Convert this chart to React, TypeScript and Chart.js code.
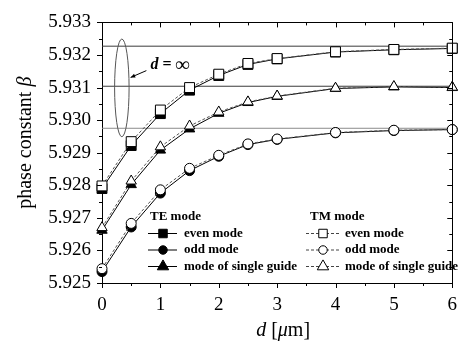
import React, { useEffect, useRef } from 'react';
import { Chart, registerables } from 'chart.js';

Chart.register(...registerables);

// ---------- data ----------
const dValues = [0, 0.5, 1, 1.5, 2, 2.5, 3, 4, 5, 6];

const teEven = [5.9279, 5.92922, 5.9302, 5.93092, 5.93137, 5.93171, 5.93188, 5.93209, 5.93216, 5.9322];
const teOdd = [5.92535, 5.92672, 5.92776, 5.92845, 5.92889, 5.92925, 5.92941, 5.92961, 5.92968, 5.92971];
const teSingle = [5.92662, 5.92802, 5.92908, 5.92973, 5.93021, 5.93054, 5.93073, 5.93097, 5.93102, 5.931];

const tmEven = [5.92798, 5.92934, 5.93031, 5.931, 5.93141, 5.93174, 5.93189, 5.9321, 5.93217, 5.93221];
const tmOdd = [5.92544, 5.92683, 5.92786, 5.92852, 5.92892, 5.92927, 5.92942, 5.92962, 5.92969, 5.92971];
const tmSingle = [5.9267, 5.92813, 5.92918, 5.92982, 5.93025, 5.93056, 5.93074, 5.93098, 5.93103, 5.93101];

// asymptotes for d = infinity
const asymptoteValues = [5.93227, 5.93104, 5.92975];
const asymptoteColors = ['#3a3a3a', '#3a3a3a', '#8c8c8c'];

const xTickValues = [0, 1, 2, 3, 4, 5, 6];
const xTickLabels = ['0', '1', '2', '3', '4', '5', '6'];
const yTickValues = [5.925, 5.926, 5.927, 5.928, 5.929, 5.93, 5.931, 5.932, 5.933];
const yTickLabels = ['5.925', '5.926', '5.927', '5.928', '5.929', '5.930', '5.931', '5.932', '5.933'];

const teLegendLabels = ['even mode', 'odd mode', 'mode of single guide'];
const tmLegendLabels = ['even mode', 'odd mode', 'mode of single guide'];
const legendStyles = ['rect', 'circle', 'triangle'];

// annotation (data space)
const ellipseCenter = { x: 0.34, y: 5.93099 };
const ellipseRadius = { x: 0.124, y: 0.0015 };
const arrowTail = { x: 0.76, y: 5.93152 };
const arrowTip = { x: 0.49, y: 5.93131 };
const infLabelPos = { x: 0.83, y: 5.93169 };

const SERIF = "'Liberation Serif', 'Times New Roman', Times, serif";

const pts = (ys: number[]) => ys.map((y, i) => ({ x: dValues[i], y }));

function drawMarker(ctx: CanvasRenderingContext2D, style: string, x: number, y: number, size: number, filled: boolean) {
  ctx.save();
  ctx.beginPath();
  if (style === 'rect') {
    ctx.rect(x - size / 2, y - size / 2, size, size);
  } else if (style === 'circle') {
    ctx.arc(x, y, size / 2, 0, Math.PI * 2);
  } else {
    const r = size * 0.6;
    ctx.moveTo(x, y - r);
    ctx.lineTo(x + r * 0.866, y + r * 0.5);
    ctx.lineTo(x - r * 0.866, y + r * 0.5);
    ctx.closePath();
  }
  ctx.fillStyle = filled ? '#000' : '#fff';
  ctx.fill();
  ctx.lineWidth = 1;
  ctx.strokeStyle = '#000';
  ctx.stroke();
  ctx.restore();
}

const decorPlugin = {
  id: 'decor',
  afterDraw(chart: any) {
    const { ctx, chartArea, scales } = chart;
    const xs = scales.x;
    const ys = scales.y;
    const L = chartArea.left, R = chartArea.right, T = chartArea.top, B = chartArea.bottom;
    ctx.save();
    // frame top & right
    ctx.strokeStyle = '#000';
    ctx.lineWidth = 1;
    ctx.beginPath();
    ctx.moveTo(L, Math.round(T) + 0.5);
    ctx.lineTo(R + 0.5, Math.round(T) + 0.5);
    ctx.moveTo(Math.round(R) + 0.5, T);
    ctx.lineTo(Math.round(R) + 0.5, B);
    ctx.stroke();

    // ticks
    ctx.beginPath();
    for (let v = 0; v <= 6.0001; v += 0.5) {
      const px = Math.round(xs.getPixelForValue(v)) + 0.5;
      const major = Math.abs(v - Math.round(v)) < 1e-6;
      const len = major ? 5 : 3;
      ctx.moveTo(px, B);
      ctx.lineTo(px, B + len);
      ctx.moveTo(px, T);
      ctx.lineTo(px, T + len);
    }
    for (let k = 0; k <= 16; k++) {
      const v = 5.925 + k * 0.0005;
      const py = Math.round(ys.getPixelForValue(v)) + 0.5;
      const len = k % 2 === 0 ? 5 : 3;
      ctx.moveTo(L, py);
      ctx.lineTo(L - len, py);
      ctx.moveTo(R, py);
      ctx.lineTo(R - len, py);
    }
    ctx.stroke();

    // ellipse
    const ecx = xs.getPixelForValue(ellipseCenter.x);
    const ecy = ys.getPixelForValue(ellipseCenter.y);
    const erx = Math.abs(xs.getPixelForValue(ellipseCenter.x + ellipseRadius.x) - ecx);
    const ery = Math.abs(ys.getPixelForValue(ellipseCenter.y + ellipseRadius.y) - ecy);
    ctx.beginPath();
    ctx.ellipse(ecx, ecy, erx, ery, 0, 0, Math.PI * 2);
    ctx.strokeStyle = '#555';
    ctx.lineWidth = 1;
    ctx.stroke();

    // arrow
    const tx = xs.getPixelForValue(arrowTail.x), ty = ys.getPixelForValue(arrowTail.y);
    const hx = xs.getPixelForValue(arrowTip.x), hy = ys.getPixelForValue(arrowTip.y);
    ctx.beginPath();
    ctx.moveTo(tx, ty);
    ctx.lineTo(hx, hy);
    ctx.strokeStyle = '#000';
    ctx.stroke();
    const ang = Math.atan2(hy - ty, hx - tx);
    ctx.beginPath();
    ctx.moveTo(hx, hy);
    ctx.lineTo(hx - 5 * Math.cos(ang - 0.4), hy - 5 * Math.sin(ang - 0.4));
    ctx.lineTo(hx - 5 * Math.cos(ang + 0.4), hy - 5 * Math.sin(ang + 0.4));
    ctx.closePath();
    ctx.fillStyle = '#000';
    ctx.fill();

    // d = ∞
    const ix = xs.getPixelForValue(infLabelPos.x), iy = ys.getPixelForValue(infLabelPos.y);
    ctx.textBaseline = 'middle';
    ctx.textAlign = 'left';
    ctx.fillStyle = '#000';
    ctx.font = `italic bold 16px ${SERIF}`;
    ctx.fillText('d', ix, iy);
    const dw = ctx.measureText('d').width;
    ctx.font = `bold 16px ${SERIF}`;
    ctx.fillText(' = ', ix + dw, iy);
    const ew = ctx.measureText(' = ').width;
    ctx.font = `bold 20px ${SERIF}`;
    ctx.fillText('\u221E', ix + dw + ew, iy + 1);

    // legend
    ctx.font = `bold 13px ${SERIF}`;
    ctx.fillText('TE mode', 150, 217);
    ctx.fillText('TM mode', 310, 217);
    const rowY = [233.5, 250, 266.5];
    for (let i = 0; i < 3; i++) {
      const y = rowY[i];
      // TE
      ctx.beginPath();
      ctx.setLineDash([]);
      ctx.strokeStyle = '#000';
      ctx.lineWidth = 1;
      ctx.moveTo(148, y);
      ctx.lineTo(177, y);
      ctx.stroke();
      drawMarker(ctx, legendStyles[i], 163, y, legendStyles[i] === 'triangle' ? 11 : 8.5, true);
      ctx.fillStyle = '#000';
      ctx.fillText(teLegendLabels[i], 184, y);
      // TM
      ctx.beginPath();
      ctx.setLineDash([3, 2]);
      ctx.strokeStyle = '#444';
      ctx.moveTo(306, y);
      ctx.lineTo(340, y);
      ctx.stroke();
      ctx.setLineDash([]);
      drawMarker(ctx, legendStyles[i], 323, y, legendStyles[i] === 'triangle' ? 11 : 8.5, false);
      ctx.fillStyle = '#000';
      ctx.fillText(tmLegendLabels[i], 345, y);
    }

    // y title
    ctx.save();
    ctx.translate(26, (T + B) / 2 - 10);
    ctx.rotate(-Math.PI / 2);
    ctx.font = `20px ${SERIF}`;
    const t1 = 'phase constant ';
    const w1 = ctx.measureText(t1).width;
    ctx.font = `italic 20px ${SERIF}`;
    const w2 = ctx.measureText('\u03B2').width;
    const start = -(w1 + w2) / 2;
    ctx.textAlign = 'left';
    ctx.textBaseline = 'middle';
    ctx.font = `20px ${SERIF}`;
    ctx.fillText(t1, start, 0);
    ctx.font = `italic 20px ${SERIF}`;
    ctx.fillText('\u03B2', start + w1, 0);
    ctx.restore();

    // x title: d [μm]
    const parts: [string, boolean][] = [['d', true], [' [', false], ['\u03BC', true], ['m]', false]];
    let total = 0;
    for (const [s, it] of parts) {
      ctx.font = `${it ? 'italic ' : ''}20px ${SERIF}`;
      total += ctx.measureText(s).width;
    }
    let cx = (L + R) / 2 + 6 - total / 2;
    ctx.textBaseline = 'middle';
    ctx.textAlign = 'left';
    for (const [s, it] of parts) {
      ctx.font = `${it ? 'italic ' : ''}20px ${SERIF}`;
      ctx.fillText(s, cx, 331);
      cx += ctx.measureText(s).width;
    }
    ctx.restore();
  },
};

export default function App() {
  const ref = useRef<HTMLCanvasElement | null>(null);

  useEffect(() => {
    document.body.style.margin = '0';
    const canvas = ref.current;
    if (!canvas) return;

    const markerSet = (
      label: string,
      ys: number[],
      style: string,
      radius: number,
      filled: boolean,
      order: number
    ) => ({
      label,
      data: pts(ys),
      showLine: true,
      borderColor: filled ? '#000' : '#555',
      borderWidth: 1,
      borderDash: filled ? [] : [3, 2],
      pointStyle: style,
      pointRadius: radius,
      pointBorderColor: '#000',
      pointBorderWidth: 1,
      pointBackgroundColor: filled ? '#000' : '#fff',
      pointHoverRadius: radius,
      clip: false,
      order,
    });

    const asymSets = asymptoteValues.map((v, i) => ({
      label: `asym${i}`,
      data: [{ x: 0, y: v }, { x: 6, y: v }],
      showLine: true,
      borderColor: asymptoteColors[i],
      borderWidth: 1,
      pointRadius: 0,
      order: 5,
    }));

    const chart = new Chart(canvas, {
      type: 'scatter',
      data: {
        datasets: [
          markerSet('TM even', tmEven, 'rect', 7, false, 1),
          markerSet('TM odd', tmOdd, 'circle', 5, false, 1),
          markerSet('TM single', tmSingle, 'triangle', 6, false, 1),
          markerSet('TE even', teEven, 'rect', 7, true, 2),
          markerSet('TE odd', teOdd, 'circle', 5, true, 2),
          markerSet('TE single', teSingle, 'triangle', 6, true, 2),
          ...asymSets,
        ] as any,
      },
      options: {
        animation: false,
        responsive: false,
        devicePixelRatio: 1,
        layout: { padding: { top: 15, right: 2, left: 0, bottom: 0 } },
        plugins: {
          legend: { display: false },
          tooltip: { enabled: false },
          title: { display: false },
        },
        scales: {
          x: {
            type: 'linear',
            min: 0,
            max: 6,
            grid: { display: false, drawTicks: false },
            border: { display: true, color: '#000', width: 1 },
            afterBuildTicks: (scale: any) => {
              scale.ticks = xTickValues.map((v) => ({ value: v }));
            },
            afterFit: (scale: any) => {
              scale.height = 58;
            },
            ticks: {
              padding: 11,
              color: '#000',
              font: { family: SERIF, size: 19 },
              maxRotation: 0,
              callback: (_v: any, i: number) => xTickLabels[i],
            },
          },
          y: {
            type: 'linear',
            min: 5.925,
            max: 5.933,
            grid: { display: false, drawTicks: false },
            border: { display: true, color: '#000', width: 1 },
            afterBuildTicks: (scale: any) => {
              scale.ticks = yTickValues.map((v) => ({ value: v }));
            },
            afterFit: (scale: any) => {
              scale.width = 102;
            },
            ticks: {
              padding: 11,
              color: '#000',
              font: { family: SERIF, size: 19 },
              callback: (_v: any, i: number) => yTickLabels[i],
            },
          },
        },
      } as any,
      plugins: [decorPlugin],
    });

    return () => chart.destroy();
  }, []);

  return (
    <div style={{ width: 468, height: 341, position: 'relative', background: '#fff' }}>
      <canvas ref={ref} width={468} height={341} style={{ display: 'block' }} />
    </div>
  );
}
